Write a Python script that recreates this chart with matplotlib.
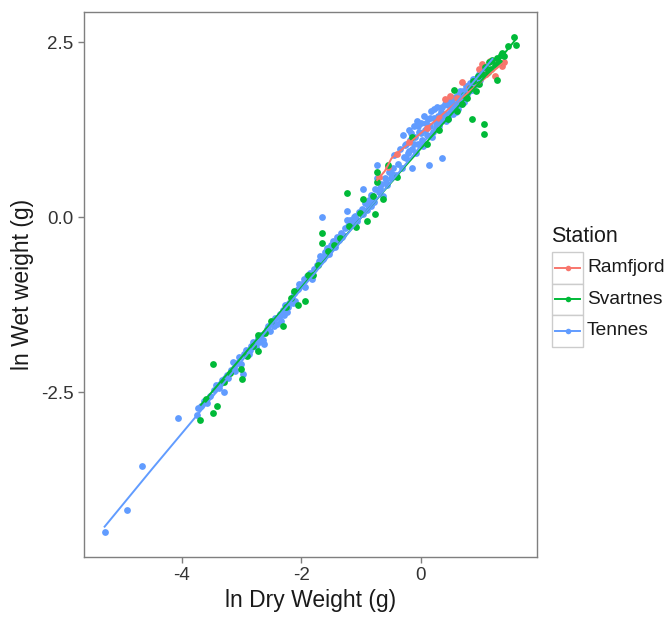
import numpy as np
import matplotlib
matplotlib.use("Agg")
import matplotlib.pyplot as plt
from matplotlib.patches import Rectangle
from matplotlib.lines import Line2D

plt.rcParams['font.family'] = ['Liberation Sans', 'DejaVu Sans']

# ln dry weight / ln wet weight per station
tennes_x = [-5.29, -4.92, -4.67, -4.06,
            -3.74, -3.72, -3.68, -3.62, -3.58, -3.52, -3.46, -3.42, -3.38, -3.33, -3.29, -3.25, -3.22,
            -3.18, -3.15, -3.12, -3.08, -3.04, -3.00, -2.98, -2.95, -2.92, -2.88, -2.84, -2.80, -2.76,
            -2.72, -2.68, -2.64, -2.62, -2.58, -2.55, -2.52, -2.48, -2.44, -2.40, -2.36, -2.34, -2.30,
            -2.27, -2.24, -2.20, -2.16, -2.12, -2.10, -2.06, -2.03,
            -1.99, -1.96, -1.93, -1.90, -1.86, -1.82, -1.78, -1.74, -1.71, -1.68, -1.66, -1.64, -1.60,
            -1.57, -1.54, -1.50, -1.47, -1.44, -1.40, -1.37, -1.34, -1.30, -1.27, -1.24, -1.24, -1.21,
            -1.18, -1.14, -1.10, -1.06, -1.03,
            -0.99, -0.96, -0.96, -0.93, -0.90, -0.86, -0.83, -0.80, -0.76, -0.74, -0.74, -0.70, -0.66,
            -0.63, -0.60, -0.56, -0.53, -0.50, -0.46, -0.44, -0.42, -0.38, -0.35, -0.32, -0.29, -0.28,
            -0.25, -0.22, -0.20, -0.18, -0.15, -0.14, -0.12, -0.10, -0.07, -0.05, -0.03,
            0.00, 0.02, 0.05, 0.07, 0.10, 0.12, 0.13, 0.15, 0.18, 0.20, 0.23, 0.26, 0.28, 0.31, 0.34,
            0.35, 0.37, 0.40, 0.43, 0.46, 0.48, 0.51, 0.54, 0.57, 0.60, 0.63, 0.66, 0.69, 0.72, 0.75,
            0.78, 0.82, 0.85, 0.88, 0.92, 0.96, 1.00, 1.03, 1.08, 1.12,
            -0.27, -0.24, -0.19, -0.16, -0.11, -0.08, -0.04, 0.01, 0.04, 0.08, 0.11, 0.16, 0.19,
            0.22, 0.25, 0.29, 0.32, 0.36, 0.39, 0.42, 0.45, 0.49, 0.53, 0.56, 0.59, 0.62, 0.65,
            0.68, 0.71, 0.74, 0.77, 0.80, 0.84, 0.87, 0.90, 0.94, 0.98,
            -1.62, -1.52, -1.42, -1.32, -1.16, -1.12, -1.08, -0.88, -0.84, -0.78, -0.68, -0.58,
            -0.48, -2.46, -2.38, -2.28, -2.22, -2.14, -3.36, -3.28, -3.10, -2.86, -2.70]
tennes_y = [-4.50, -4.18, -3.55, -2.87,
            -2.83, -2.72, -2.69, -2.62, -2.66, -2.55, -2.47, -2.40, -2.44, -2.33, -2.50, -2.25, -2.30,
            -2.18, -2.07, -2.15, -2.08, -2.00, -2.10, -2.24, -1.95, -1.90, -1.95, -1.84, -1.78, -1.86,
            -1.72, -1.68, -1.75, -1.81, -1.60, -1.55, -1.62, -1.50, -1.44, -1.52, -1.38, -1.48, -1.32,
            -1.26, -1.35, -1.22, -1.15, -1.08, -1.20, -1.02, -0.96,
            -0.95, -0.88, -1.00, -0.84, -0.80, -0.88, -0.74, -0.68, -0.62, -0.56, 0.01, -0.60, -0.50,
            -0.44, -0.52, -0.40, -0.34, -0.42, -0.28, -0.32, -0.22, -0.26, -0.16, 0.09, -0.04, -0.12,
            -0.04, -0.10, 0.02, -0.06, 0.08,
            0.12, 0.41, 0.04, 0.20, 0.10, 0.24, 0.16, 0.30, 0.40, 0.74, 0.56, 0.36, 0.48,
            0.30, 0.56, 0.46, 0.64, 0.56, 0.70, 0.89, 0.60, 0.76, 0.98, 0.70, 1.17, 0.86,
            1.05, 0.92, 1.25, 1.10, 0.70, 0.98, 1.30, 1.15, 1.38, 1.05, 1.22,
            1.35, 1.10, 1.45, 1.25, 1.18, 1.40, 0.74, 1.30, 1.52, 1.22, 1.42, 1.35, 1.58, 1.30, 1.50,
            0.85, 1.42, 1.62, 1.48, 1.40, 1.68, 1.55, 1.48, 1.72, 1.62, 1.55, 1.80, 1.70, 1.65, 1.88,
            1.76, 1.92, 1.82, 1.98, 1.90, 2.02, 1.96, 2.08, 2.05, 2.12,
            1.03, 0.85, 0.95, 1.20, 1.05, 0.92, 1.30, 1.20, 1.02, 1.35, 1.28, 1.42, 1.15,
            1.55, 1.28, 1.45, 1.38, 1.58, 1.45, 1.38, 1.60, 1.48, 1.65, 1.58, 1.50, 1.75, 1.65,
            1.62, 1.80, 1.72, 1.85, 1.80, 1.88, 1.92, 1.98, 1.95, 2.05,
            -0.55, -0.46, -0.36, -0.28, -0.08, 0.00, -0.02, 0.18, 0.32, 0.22, 0.42, 0.50,
            0.62, -1.56, -1.42, -1.40, -1.28, -1.22, -2.38, -2.30, -2.20, -1.90, -1.78]

svartnes_x = [-3.70, -3.60, -3.48, -3.48, -3.41, -3.30, -3.20, -3.01, -2.99, -2.90, -2.80, -2.73,
              -2.72, -2.60, -2.50, -2.31, -2.25, -2.17, -2.12, -2.06, -1.93, -1.89, -1.80, -1.72,
              -1.66, -1.66, -1.55, -1.45, -1.35, -1.24, -1.20, -1.08, -1.02, -0.96, -0.90, -0.80,
              -0.77, -0.74, -0.74, -0.63, -0.55, -0.40, -0.15, 0.10, 0.30, 0.45, 0.55, 0.60, 0.69,
              0.72, 0.78, 0.82, 0.86, 0.88, 0.92, 0.95, 0.98, 1.03, 1.06, 1.06, 1.08, 1.12, 1.15,
              1.18, 1.20, 1.24, 1.27, 1.28, 1.31, 1.35, 1.36, 1.40, 1.46, 1.56, 1.60]
svartnes_y = [-2.90, -2.60, -2.80, -2.10, -2.70, -2.36, -2.22, -2.17, -2.31, -1.98, -1.84, -1.68,
              -1.91, -1.65, -1.48, -1.55, -1.28, -1.15, -1.05, -1.25, -1.19, -0.82, -0.82, -0.68,
              -0.23, -0.37, -0.48, -0.40, -0.30, 0.34, -0.12, -0.14, 0.06, 0.26, -0.05, 0.30,
              0.04, 0.65, 0.51, 0.26, 0.74, 0.58, 1.15, 1.05, 1.25, 1.40, 1.81, 1.52, 1.62,
              1.75, 1.70, 1.85, 1.40, 1.95, 1.80, 2.02, 1.90, 2.05, 1.33, 1.19, 2.15, 2.08, 2.22,
              2.12, 2.25, 2.18, 1.96, 2.28, 2.22, 2.32, 2.35, 2.30, 2.45, 2.58, 2.46]

ramfjord_x = [-0.70, -0.55, -0.40, -0.20, 0.10, 0.30, 0.40, 0.49, 0.60, 0.69, 0.80, 0.97, 1.03,
              1.10, 1.16, 1.24, 1.30, 1.36, 1.40]
ramfjord_y = [0.58, 0.72, 0.90, 1.08, 1.28, 1.42, 1.69, 1.73, 1.70, 1.93, 1.85, 2.12, 2.19,
              2.05, 2.23, 2.02, 2.20, 2.16, 2.22]

# fitted lines per station
tennes_fit_x = [-5.29, -4.50, -3.50, -2.50, -1.50, -0.50, 0.50, 1.20]
tennes_fit_y = [-4.42, -3.60, -2.58, -1.54, -0.52, 0.50, 1.54, 2.26]
svartnes_fit_x = [-3.68, -0.29, 1.19, 1.60]
svartnes_fit_y = [-2.68, 0.70, 2.12, 2.55]
ramfjord_fit_x = [-0.73, -0.60, -0.49, 0.00, 0.50, 1.00, 1.40]
ramfjord_fit_y = [0.53, 0.66, 0.84, 1.20, 1.57, 1.93, 2.22]

stations = ['Ramfjord', 'Svartnes', 'Tennes']
colors = ['#F8766D', '#00BA38', '#619CFF']

fig = plt.figure(figsize=(6.67, 6.21), dpi=100)
ax = fig.add_axes([0.126, 0.103, 0.679, 0.878])

ax.scatter(tennes_x, tennes_y, s=24, color=colors[2], linewidths=0, zorder=2)
ax.scatter(ramfjord_x, ramfjord_y, s=24, color=colors[0], linewidths=0, zorder=2)
ax.scatter(svartnes_x, svartnes_y, s=24, color=colors[1], linewidths=0, zorder=2)

ax.plot(ramfjord_fit_x, ramfjord_fit_y, color=colors[0], lw=1.4, zorder=3)
ax.plot(svartnes_fit_x, svartnes_fit_y, color=colors[1], lw=1.4, zorder=3)
ax.plot(tennes_fit_x, tennes_fit_y, color=colors[2], lw=1.4, zorder=3)

# ggplot-like 5% expansion
all_x = np.concatenate([tennes_x, svartnes_x, ramfjord_x])
all_y = np.concatenate([tennes_y, svartnes_y, ramfjord_y])
dx = (all_x.max() - all_x.min()) * 0.05
dy = (all_y.max() - all_y.min()) * 0.05
ax.set_xlim(all_x.min() - dx, all_x.max() + dx)
ax.set_ylim(all_y.min() - dy, all_y.max() + dy)

ax.set_xticks([-4, -2, 0])
ax.set_xticklabels(['-4', '-2', '0'])
ax.set_yticks([-2.5, 0, 2.5])
ax.set_yticklabels(['-2.5', '0.0', '2.5'])
ax.tick_params(colors='#7F7F7F', labelcolor='#333333', labelsize=13.5, length=4, width=1)
for sp in ax.spines.values():
    sp.set_color('#7F7F7F')
    sp.set_linewidth(1)

ax.set_xlabel('ln Dry Weight (g)', fontsize=16.5, color='#1a1a1a', labelpad=3)
ax.set_ylabel('ln Wet weight (g)', fontsize=16.5, color='#1a1a1a', labelpad=5)

# legend drawn ggplot style, each key in its own box
W, H = 667, 621
fig.text(551 / W, 1 - 237 / H, 'Station', fontsize=15.5, ha='left', va='center', color='#1a1a1a')
key_top = 252
key_h = 31.5
for i, (name, c) in enumerate(zip(stations, colors)):
    top = key_top + i * key_h
    fig.add_artist(Rectangle((552 / W, 1 - (top + key_h) / H), 31 / W, key_h / H,
                             transform=fig.transFigure, facecolor='white', edgecolor='#CCCCCC', lw=1))
    yc = 1 - (top + key_h / 2) / H
    fig.add_artist(Line2D([555 / W, 580 / W], [yc, yc], transform=fig.transFigure, color=c, lw=1.4))
    fig.add_artist(Line2D([567.5 / W], [yc], transform=fig.transFigure, color=c, marker='o',
                          markersize=4, markeredgewidth=0))
    fig.text(587 / W, yc, name, fontsize=13.8, ha='left', va='center', color='#1a1a1a')

fig.savefig('out.png', dpi=100)
